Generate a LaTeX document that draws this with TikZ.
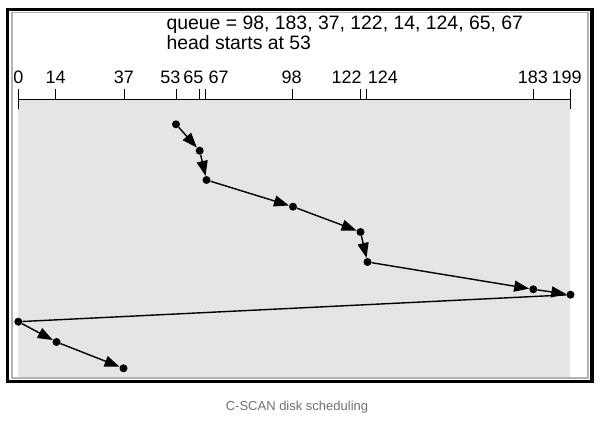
\documentclass[tikz,border=0pt]{standalone}
\usepackage{fontspec}
\setmainfont{Liberation Sans}
\usetikzlibrary{arrows.meta,positioning}
\definecolor{capgray}{RGB}{112,112,112}
\tikzset{
        track/.style = {circle, fill=black, inner sep=0pt,
            minimum size=8pt},
        move/.style = {draw, line width=1.4pt,
            -{Triangle[length=15pt,width=11pt]}},
        jump/.style = {draw, line width=1.4pt},
        ticklabel/.style = {anchor=base,
            font=\fontsize{18}{21}\selectfont},
        header/.style = {anchor=base west,
            font=\fontsize{19.4}{22}\selectfont},
    }

\begin{document}
\begin{tikzpicture}[x=1pt,y=-1pt]
                \useasboundingbox (0,0) rectangle (603,422);

                % frame and shaded band
                \draw[line width=3.5pt] (7.5,9.5) rectangle (592,381.5);
                \draw[gray!60, line width=1.2pt] (12,12.5) rectangle (588,378);
                \fill[gray!20] (18.3,99.3) rectangle (570.3,377.3);

                \node[header] (queue) at (163,30) {queue = 98, 183, 37, 122, 14, 124, 65, 67};
                \node[header] (start) at (163,50) {head starts at 53};

                % cylinder axis
                \draw[line width=1pt] (18.3,99.3) -- (570.3,99.3);
                \draw[line width=1pt] (18.3,89) -- (18.3,109);
                \draw[line width=1pt] (570.3,89) -- (570.3,109);
                \foreach \t/\x/\dx in {0/18.3/0, 14/55.7/0, 37/124/0, 53/176/-5.7,
                        65/199.7/-6.4, 67/205.7/13, 98/292.7/-1, 122/360.7/-14,
                        124/366.3/16.5, 183/533.3/-0.5, 199/570.3/-3.6} {
                    \draw[line width=1pt] (\x,89) -- (\x,99.3);
                    \node[ticklabel] (l\t) at ({\x+(\dx)},84) {\t};
                }

                % head positions
                \node[track] (p53) at (176,124.3) {};
                \node[track] (p65) at (199.7,150.7) {};
                \node[track] (p67) at (206.5,180) {};
                \node[track] (p98) at (293,206.7) {};
                \node[track] (p122) at (360.5,232) {};
                \node[track] (p124) at (367.5,262) {};
                \node[track] (p183) at (533.3,289.3) {};
                \node[track] (p199) at (570.5,294.7) {};
                \node[track] (p0) at (18.3,321.7) {};
                \node[track] (p14) at (56.5,342) {};
                \node[track] (p37) at (123.5,368.3) {};

                \draw[move] (p53) -- (p65);
                \draw[move] (p65) -- (p67);
                \draw[move] (p67) -- (p98);
                \draw[move] (p98) -- (p122);
                \draw[move] (p122) -- (p124);
                \draw[move] (p124) -- (p183);
                \draw[move] (p183) -- (p199);
                \draw[jump] (p199) -- (p0);
                \draw[move] (p0) -- (p14);
                \draw[move] (p14) -- (p37);

                \node[anchor=base, text=capgray, font=\fontsize{13}{15}\selectfont] (caption)
                    at (297,410) {C-SCAN disk scheduling};
\end{tikzpicture}
\end{document}
